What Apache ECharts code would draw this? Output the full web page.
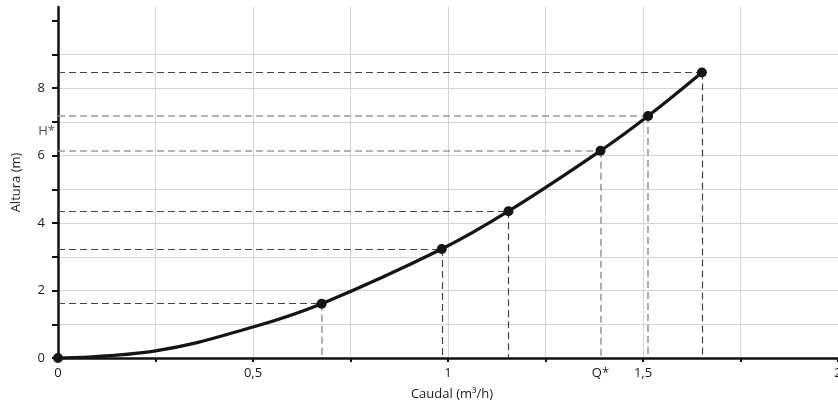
<!DOCTYPE html>
<html>
<head>
<meta charset="utf-8">
<script src="https://cdn.jsdelivr.net/npm/echarts@6/dist/echarts.min.js"></script>
<style>html,body{margin:0;padding:0;background:#fff}#c{width:838px;height:410px}</style>
</head>
<body>
<div id="c"></div>
<script>
// Curve samples (Caudal m3/h, Altura m)
const curveQ = [0, 0.25, 0.5, 0.676, 0.984, 1.155, 1.391, 1.513, 1.651];
const curveH = [0, 0.21, 0.92, 1.61, 3.23, 4.35, 6.14, 7.17, 8.46];
// Marked operating points
const pointQ = [0, 0.676, 0.984, 1.155, 1.391, 1.513, 1.651];
const pointH = [0, 1.61, 3.23, 4.35, 6.14, 7.17, 8.46];
// Axis ticks / labels
const xTicks = [0, 0.25, 0.5, 0.75, 1, 1.25, 1.5, 1.75, 2];
const xLabelValues = [0, 0.5, 1, 1.5, 2];
const yTicks = [0, 1, 2, 3, 4, 5, 6, 7, 8, 9, 10];
const yLabelValues = [0, 2, 4, 6, 8];
const qStar = 1.391;
const hStar = 6.72;
const xName = 'Caudal (m³/h)';
const yName = 'Altura (m)';

// styles (separate from data)
const DARK = '#444444', LIGHT = '#9a9a9a';
const hGuideColor = [null, DARK, DARK, DARK, LIGHT, LIGHT, DARK];
const vGuideColor = [null, LIGHT, DARK, DARK, LIGHT, LIGHT, DARK];
const hGuideWidth = [null, 1.2, 1.2, 1.2, 1.6, 1.6, 1.2];
const vGuideWidth = [null, 1.6, 1.2, 1.2, 1.6, 1.6, 1.2];

const guideLines = [];
for (let i = 1; i < pointQ.length; i++) {
  guideLines.push([
    {coord: [0, pointH[i]], lineStyle: {color: hGuideColor[i], width: hGuideWidth[i]}},
    {coord: [pointQ[i], pointH[i]]}
  ]);
  guideLines.push([
    {coord: [pointQ[i], pointH[i]], lineStyle: {color: vGuideColor[i], width: vGuideWidth[i]}},
    {coord: [pointQ[i], 0]}
  ]);
}

const FONT = 'Open Sans';
const TXT = '#1a1a1a';
const chart = echarts.init(document.getElementById('c'), null, {renderer: 'canvas'});
chart.setOption({
  animation: false,
  backgroundColor: '#fff',
  grid: {left: 58, right: 0, top: 7, bottom: 52, containLabel: false, outerBoundsMode: 'none'},
  xAxis: {
    type: 'value', min: 0, max: 2, interval: 0.25,
    name: xName, nameLocation: 'middle', nameGap: 30,
    nameTextStyle: {fontFamily: FONT, fontSize: 13, color: TXT, padding: [0, 0, 0, 8]},
    axisLine: {show: true, onZero: false, lineStyle: {color: '#111', width: 2.5}},
    axisTick: {show: true, inside: false, length: 4, customValues: xTicks, lineStyle: {color: '#111', width: 2}},
    axisLabel: {
      customValues: xLabelValues.concat([qStar]),
      fontFamily: FONT, fontSize: 13, color: TXT, margin: 9,
      formatter: v => (Math.abs(v - qStar) < 1e-6 ? 'Q*' : String(v).replace('.', ','))
    },
    splitLine: {show: true, lineStyle: {color: '#d4d4d4', width: 1}}
  },
  yAxis: {
    type: 'value', min: 0, max: 10.4, interval: 1,
    name: yName, nameLocation: 'middle', nameGap: 35, nameRotate: 90,
    nameTextStyle: {fontFamily: FONT, fontSize: 13, color: TXT},
    axisLine: {show: true, onZero: false, lineStyle: {color: '#111', width: 2.5}},
    axisTick: {show: true, length: 6, customValues: yTicks, lineStyle: {color: '#111', width: 2}},
    axisLabel: {customValues: yLabelValues, fontFamily: FONT, fontSize: 13, color: TXT, margin: 13},
    splitLine: {show: true, showMaxLine: false, lineStyle: {color: '#d4d4d4', width: 1}}
  },
  series: [
    {
      type: 'line', name: 'guides', data: [], silent: true, z: 2,
      markLine: {
        silent: true, symbol: ['none', 'none'], label: {show: false},
        lineStyle: {type: [7, 4], width: 1.2, color: DARK},
        emphasis: {disabled: true},
        data: guideLines
      }
    },
    {
      type: 'line', name: 'curve', smooth: 0.4, showSymbol: false, z: 5,
      data: curveQ.map((q, i) => [q, curveH[i]]),
      lineStyle: {color: '#151515', width: 3.2}
    },
    {
      type: 'scatter', name: 'points', z: 6, symbolSize: 10,
      data: pointQ.map((q, i) => [q, pointH[i]]),
      itemStyle: {color: '#151515', opacity: 1}
    },
    {
      type: 'scatter', name: 'hstar', z: 7, symbolSize: 0,
      data: [[0, hStar]],
      label: {show: true, position: 'left', distance: 3, formatter: 'H*',
        fontFamily: FONT, fontSize: 13, color: TXT}
    }
  ]
});
</script>
</body>
</html>
